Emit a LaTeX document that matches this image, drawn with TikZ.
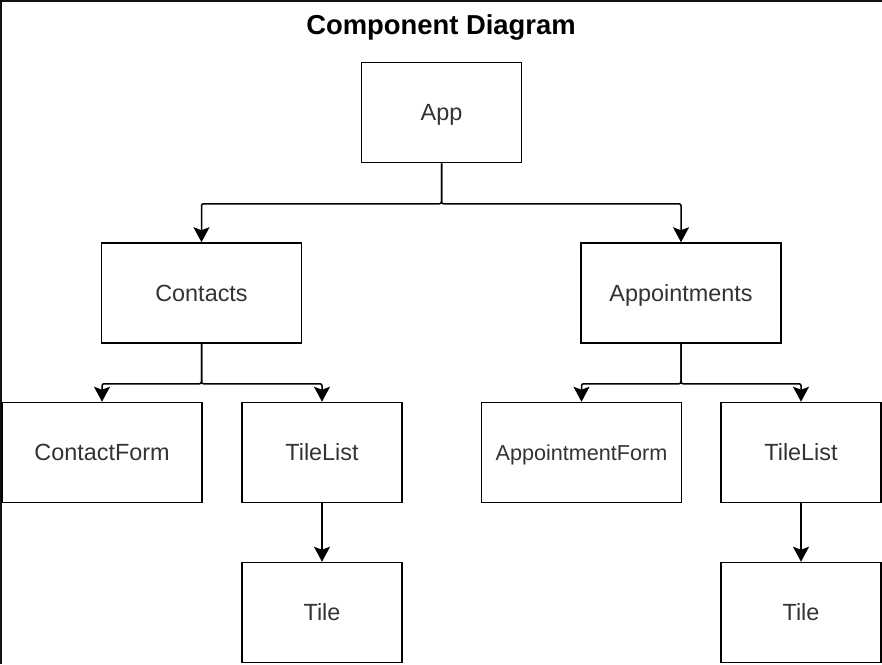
\documentclass[tikz,border=0pt]{standalone}
\usepackage{fontspec}
\setmainfont{Liberation Sans}
\usetikzlibrary{arrows.meta}
\definecolor{txt}{HTML}{333333}
\definecolor{frame}{HTML}{111111}
\begin{document}
\begin{tikzpicture}[x=1pt,y=-1pt,
  box/.style={draw=black, line width=1.5pt, minimum height=100pt, inner sep=0pt,
    font=\fontsize{23.4}{28}\selectfont, text=txt, text height=16.8pt, text depth=0pt},
  wide/.style={box, minimum width=200pt},
  narrow/.style={box, minimum width=160pt},
  arr/.style={draw=black, line width=1.5pt, rounded corners=2pt,
    -{Stealth[length=15pt,width=16pt,inset=3pt]}},
  title/.style={font=\fontsize{27.4}{32}\selectfont\bfseries, text=black, anchor=base}]
\useasboundingbox (0,0) rectangle (882,664);
\fill[white] (0,0) rectangle (882,664);
\fill[frame] (0,0) rectangle (882,2);
\fill[frame] (0,0) rectangle (2,664);

\node[title] (title) at (441,34) {Component Diagram};

\node[narrow] (app) at (441.5,112.5) {App};
\node[wide] (contacts) at (201.5,293) {Contacts};
\node[wide] (appts) at (681,293) {Appointments};
\node[wide] (cform) at (102,452.5) {ContactForm};
\node[narrow] (tl1) at (322,452.5) {TileList};
\node[narrow] (tile1) at (322,612.5) {Tile};
\node[wide, font=\fontsize{21.6}{26}\selectfont, text height=15.5pt] (aform) at (581.5,452.5) {AppointmentForm};
\node[narrow] (tl2) at (801,452.5) {TileList};
\node[narrow] (tile2) at (801,612.5) {Tile};

\draw[arr] (app.south) -- ++(0,40.5) -| (contacts.north);
\draw[arr] (app.south) -- ++(0,40.5) -| (appts.north);
\draw[arr] (contacts.south) -- ++(0,40) -| (cform.north);
\draw[arr] (contacts.south) -- ++(0,40) -| (tl1.north);
\draw[arr] (appts.south) -- ++(0,40) -| (aform.north);
\draw[arr] (appts.south) -- ++(0,40) -| (tl2.north);
\draw[arr] (tl1.south) -- (tile1.north);
\draw[arr] (tl2.south) -- (tile2.north);
\end{tikzpicture}
\end{document}
